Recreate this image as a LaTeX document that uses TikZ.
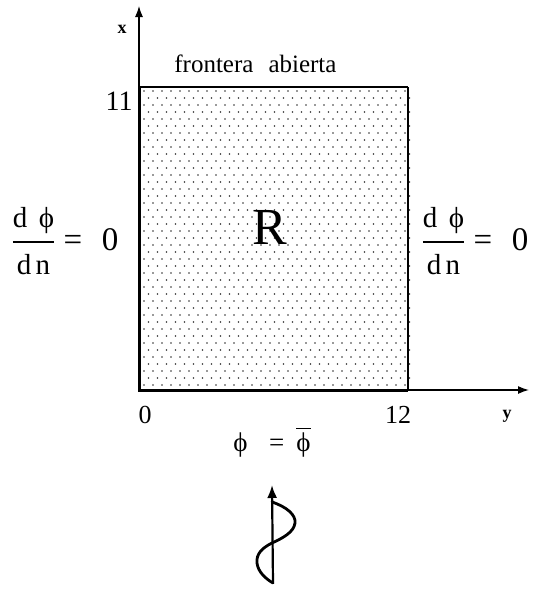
\documentclass[tikz,border=0pt]{standalone}
\usepackage{amsmath}
\usepackage{fontspec}
\setmainfont{Liberation Serif}
\usepackage{tikz}
\usetikzlibrary{arrows.meta}

\newcommand{\dphidn}{$\dfrac{\hbox{\fontsize{14.5}{16}\selectfont d\hspace{0.4em}ϕ}}{\hbox{\fontsize{14.5}{16}\selectfont d\hspace{0.15em}n}}$\hspace{3.5pt}=\hspace{0.6em}0}

\begin{document}
\begin{tikzpicture}[x=0.5pt, y=-0.5pt, >={Latex[length=5.5pt,width=4pt]},
  axlbl/.style={inner sep=0pt, font=\fontsize{9}{10}\selectfont\bfseries},
  num/.style={inner sep=0pt, font=\fontsize{13}{15}\selectfont},
  cond/.style={inner sep=0pt, anchor=west, font=\fontsize{16.5}{19}\selectfont},
  wave/.style={line width=1.4pt, line cap=round}]
  \useasboundingbox (0,0) rectangle (533,590);
  \coordinate (o) at (139,390);
  \coordinate (tl) at (139,87);
  \coordinate (tr) at (408,87);
  \coordinate (br) at (408,390);
  \coordinate (xtip) at (139,6);
  \coordinate (ytip) at (529,390);
  \foreach \r in {0,...,42}
    \foreach \c in {0,...,29}
      \fill[black!80] ({144+9*\c+4.5*mod(\r,2)},{91+7*\r}) circle[radius=0.4pt];
  \draw[->, line width=0.6pt] (o) -- (xtip);
  \draw[->, line width=0.7pt] (o) -- (ytip);
  \draw[line width=1.5pt] (tl) -- (o) -- (br);
  \draw[line width=1.1pt] (tl) -- (tr);
  \draw[line width=0.8pt] (tr) -- (br);
  \node[axlbl] (xlbl) at (122,29) {x};
  \node[axlbl] (ylbl) at (507,416) {y};
  \node[inner sep=0pt, anchor=base west, font=\fontsize{12.5}{14}\selectfont] (open) at (174,72) {frontera\hspace{0.6em}abierta};
  \node[num, anchor=east, font=\fontsize{14}{16}\selectfont] (n11) at (133,101) {11};
  \node[num] (n0) at (145,415) {0};
  \node[num] (n12) at (398,415) {12};
  \node[inner sep=0pt, font=\fontsize{26}{30}\selectfont] (reg) at (270,227) {R};
  \node[cond] (left) at (10,241) {\dphidn};
  \node[cond] (right) at (420,241) {\dphidn};
  \node[inner sep=0pt, font=\fontsize{13.5}{15}\selectfont] (bot) at (272,442) {ϕ\hspace{0.8em}=\hspace{0.45em}$\overline{\text{ϕ}}$};
  \coordinate (wb) at (273,583);
  \coordinate (wt) at (272,485);
  \coordinate (ws) at (272,502);
  \draw[-{Latex[length=6.5pt,width=5pt]}, line width=1.1pt] (wb) -- (wt);
  \draw[wave] (ws) .. controls (287,507) and (296,515) .. (295,523)
    .. controls (294,532) and (283,538) .. (272,543)
    .. controls (262,548) and (256,554) .. (257,563)
    .. controls (258,572) and (266,579) .. (wb);
\end{tikzpicture}
\end{document}
